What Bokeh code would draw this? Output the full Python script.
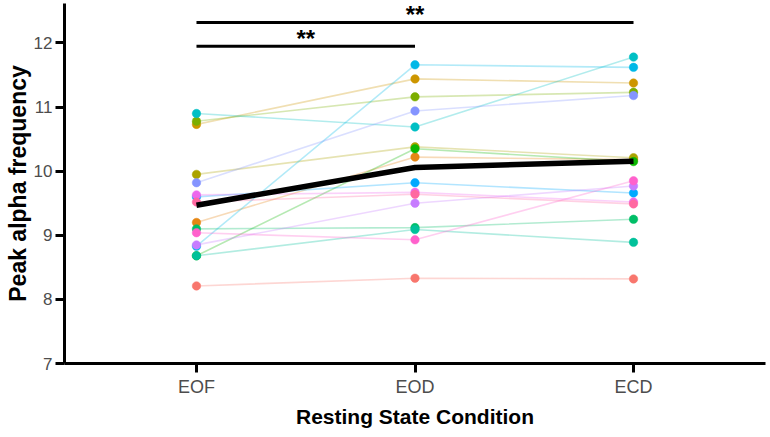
from bokeh.plotting import figure
from bokeh.models import ColumnDataSource, FixedTicker, Range1d
from bokeh.embed import file_html
from bokeh.resources import INLINE
from bokeh.core.properties import value

# ---------------- data ----------------
conditions = ["EOF", "EOD", "ECD"]
subjects = ["S%02d" % i for i in range(1, 17)]
eof = [8.21, 9.20, 10.73, 9.95, 10.78, 8.68, 9.10, 8.68, 10.90, 8.83, 9.60, 9.82, 8.85, 9.63, 9.04, 9.52]
eod = [8.33, 10.22, 11.44, 10.38, 11.16, 10.35, 9.12, 9.09, 10.69, 11.66, 9.82, 10.94, 9.50, 9.67, 8.93, 9.64]
ecd = [8.32, 10.18, 11.375, 10.21, 11.23, 10.15, 9.25, 8.89, 11.78, 11.62, 9.66, 11.18, 9.77, 9.52, 9.85, 9.49]
y_ticks = [7, 8, 9, 10, 11, 12]
sig_from = ["EOF", "EOF"]
sig_to = ["EOD", "ECD"]
sig_y = [11.95, 12.32]
sig_text = ["**", "**"]

# ---------------- style ----------------
colors = ["#F8766D", "#E68613", "#CD9600", "#ABA300", "#7CAE00", "#0CB702", "#00BE67", "#00C19A",
          "#00BFC4", "#00B8E7", "#00A9FF", "#8494FF", "#C77CFF", "#ED68ED", "#FF61CC", "#FF68A1"]
FONT = "Liberation Sans"

pos = {c: i + 1 for i, c in enumerate(conditions)}
xs = [pos[c] for c in conditions]
series = [eof, eod, ecd]

p = figure(width=770, height=437, output_backend="svg", toolbar_location=None,
           x_range=Range1d(0.396, 3.604), y_range=Range1d(7, 12.616),
           min_border_left=64, min_border_right=5, min_border_top=3, min_border_bottom=74)
p.background_fill_color = "white"
p.border_fill_color = "white"
p.outline_line_color = None
p.xgrid.visible = False
p.ygrid.visible = False

# subject lines
for i, s in enumerate(subjects):
    ys = [series[k][i] for k in range(3)]
    p.line(xs, ys, line_color=colors[i], line_alpha=0.3, line_width=1.6)

# subject points
px, py, pc = [], [], []
for k, c in enumerate(conditions):
    for i, s in enumerate(subjects):
        px.append(pos[c])
        py.append(series[k][i])
        pc.append(colors[i])
src = ColumnDataSource(dict(x=px, y=py, c=pc))
p.scatter("x", "y", source=src, size=8.5, fill_color="c", line_color="c", line_width=0.5)

# mean line
means = [sum(sv) / len(sv) for sv in series]
p.line(xs, means, line_color="black", line_width=5.5, line_join="round")

# significance bars
sx0 = [pos[a] for a in sig_from]
sx1 = [pos[b] for b in sig_to]
sig_src = ColumnDataSource(dict(x0=sx0, x1=sx1, y=sig_y,
                                xm=[(a + b) / 2 for a, b in zip(sx0, sx1)], t=sig_text))
p.segment(x0="x0", y0="y", x1="x1", y1="y", source=sig_src, line_color="black", line_width=3)
p.text(x="xm", y="y", text="t", source=sig_src, text_align="center", text_baseline="alphabetic",
       text_font=value(FONT), text_font_style="bold", text_font_size="24px", text_color="black",
       y_offset=-8)

# axes
p.xaxis.ticker = FixedTicker(ticks=xs)
p.xaxis.major_label_overrides = {pos[c]: c for c in conditions}
p.yaxis.ticker = FixedTicker(ticks=y_ticks)
p.xaxis.axis_label = "Resting State Condition"
p.yaxis.axis_label = "Peak alpha frequency"
for ax in (p.xaxis[0], p.yaxis[0]):
    ax.axis_line_width = 3
    ax.axis_line_color = "black"
    ax.major_tick_line_width = 3
    ax.major_tick_line_color = "black"
    ax.major_tick_out = 9
    ax.major_tick_in = 0
    ax.minor_tick_out = 0
    ax.minor_tick_in = 0
    ax.major_label_text_font = FONT
    ax.major_label_text_color = "#4D4D4D"
    ax.axis_label_text_font = FONT
    ax.axis_label_text_font_style = "bold"
    ax.axis_label_text_color = "black"
p.xaxis.major_label_text_font_size = "18px"
p.yaxis.major_label_text_font_size = "17px"
p.xaxis.axis_label_text_font_size = "21px"
p.yaxis.axis_label_text_font_size = "23px"
p.xaxis.major_label_standoff = 4
p.yaxis.major_label_standoff = 3
p.xaxis.axis_label_standoff = 5
p.yaxis.axis_label_standoff = 0

open("out.html", "w").write(file_html(p, INLINE))
